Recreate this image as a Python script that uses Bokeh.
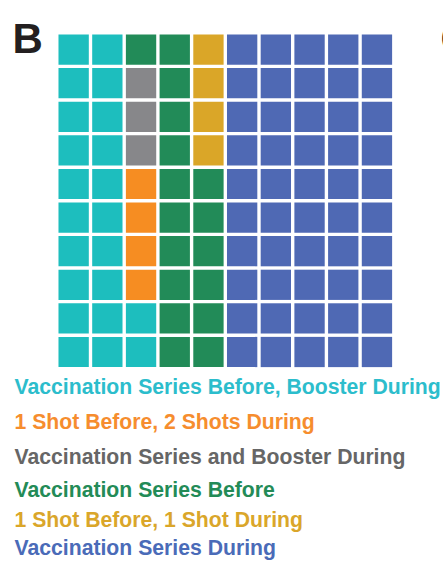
from bokeh.plotting import figure
from bokeh.models import Range1d, Label, ColumnDataSource
from bokeh.embed import file_html
from bokeh.resources import INLINE

# Data
categories = [
    "Vaccination Series Before, Booster During",
    "1 Shot Before, 2 Shots During",
    "Vaccination Series and Booster During",
    "Vaccination Series Before",
    "1 Shot Before, 1 Shot During",
    "Vaccination Series During",
]
counts = [22, 4, 3, 17, 4, 50]
cell_colors = ["#1DBEBE", "#F68D22", "#87878A", "#228B58", "#DAA628", "#4F69B4"]
text_colors = ["#2CBDCC", "#F68D2E", "#666666", "#238B57", "#DAA62A", "#4A6BB8"]
n_rows = 10
n_cols = 10

W, H = 443, 561
pitch_x = 33.7
pitch_y = 33.6
grid_left = 56.3
grid_top = 32.3

p = figure(width=W, height=H, output_backend="svg", toolbar_location=None,
           x_range=Range1d(-grid_left / pitch_x, (W - grid_left) / pitch_x),
           y_range=Range1d((H - grid_top) / pitch_y, -grid_top / pitch_y),
           min_border=0)
p.axis.visible = False
p.grid.visible = False
p.outline_line_color = None
p.background_fill_color = "white"
p.border_fill_color = "white"

# Waffle cells, filled column by column from the bottom
xs, ys, cs = [], [], []
k = 0
for ci, c in enumerate(counts):
    for _ in range(c):
        col = k // n_rows
        row = n_rows - 1 - (k % n_rows)
        xs.append(col + 0.5)
        ys.append(row + 0.5)
        cs.append(cell_colors[ci])
        k += 1
src = ColumnDataSource(dict(x=xs, y=ys, c=cs))
p.rect(x="x", y="y", width=0.9, height=0.9, fill_color="c", line_color=None, source=src)

# Panel letters
for letter, lx in (("B", 12), ("C", 440)):
    p.add_layout(Label(x=lx, y=H - 38, x_units="screen", y_units="screen", text=letter,
                       text_font="Liberation Sans", text_font_style="bold",
                       text_font_size="42px", text_color="#231F20",
                       text_baseline="alphabetic"))

# Legend texts
baselines = [394, 429, 464, 497, 527, 555]
for lab, col, b in zip(categories, text_colors, baselines):
    p.add_layout(Label(x=14, y=H - (b - 8), x_units="screen", y_units="screen",
                       text=lab, text_font="Liberation Sans", text_font_style="bold",
                       text_font_size="21.2px", text_color=col, text_baseline="alphabetic"))

open("out.html", "w").write(file_html(p, INLINE))
